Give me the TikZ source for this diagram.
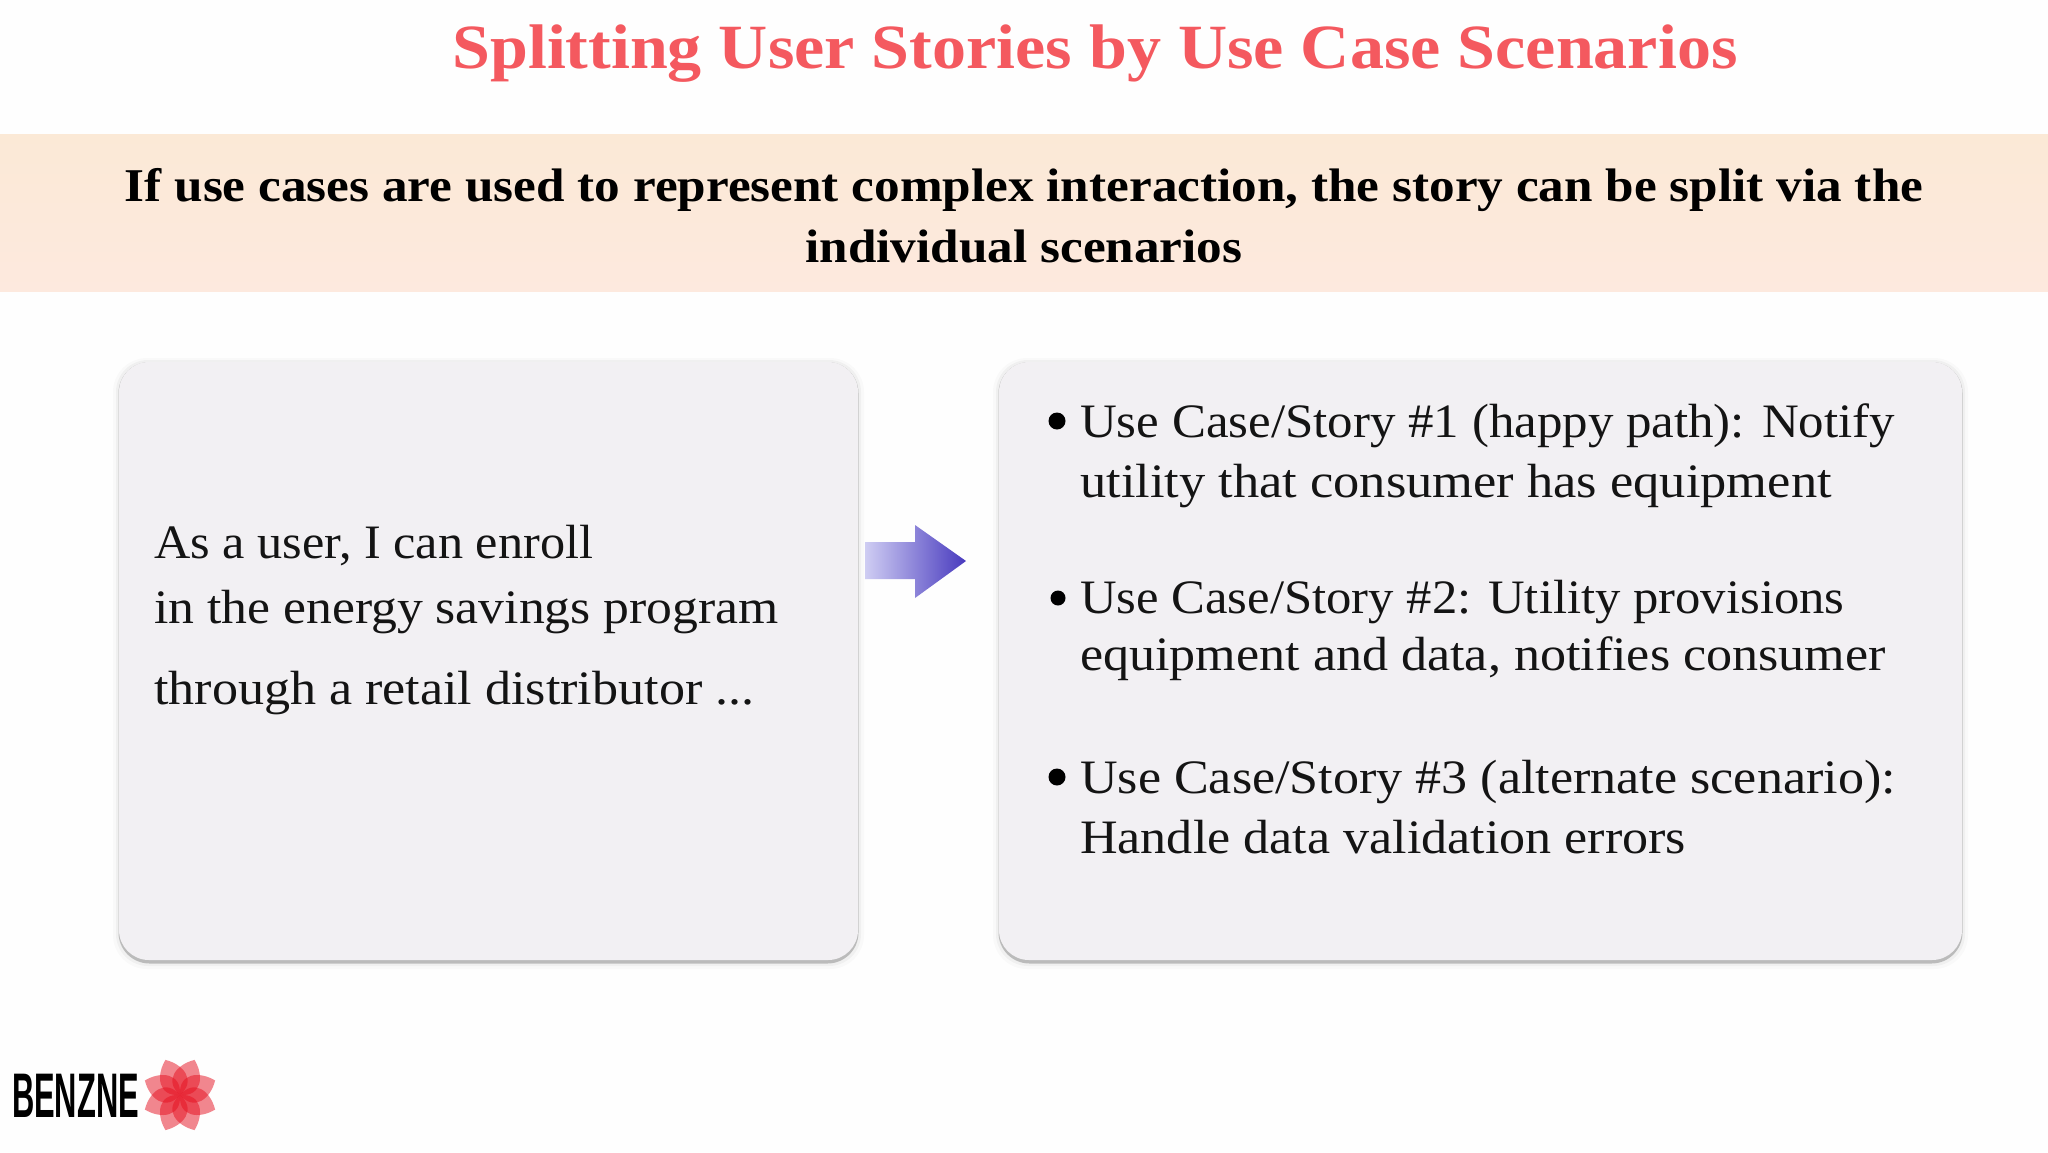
\documentclass[tikz,border=0pt]{standalone}
\usepackage{fontspec}
\setmainfont{Liberation Serif}[FakeStretch=1.085]
\newfontfamily\headfont{Liberation Serif}[FakeStretch=1.09]
\newfontfamily\titlefont{Liberation Serif}[FakeStretch=1.08]
\newfontfamily\logofont{Liberation Sans}
\definecolor{titlered}{HTML}{F4595F}
\definecolor{boxfill}{HTML}{F2F0F3}
\definecolor{pagebg}{HTML}{FEFEFE}
\definecolor{petal}{HTML}{E61020}
\definecolor{bandtop}{HTML}{FBE9D6}
\definecolor{bandbot}{HTML}{FDE9DE}
\definecolor{arrowlight}{HTML}{CFCDF3}
\definecolor{arrowmid}{HTML}{6E67CE}
\definecolor{arrowdark}{HTML}{483ABE}
\tikzset{
  x=1pt,y=-1pt,
  bodytext/.style={anchor=base west,inner sep=0pt,font=\fontsize{48}{48}\selectfont,text=black!92,transform shape},
  headtext/.style={anchor=base,inner sep=0pt,font=\headfont\fontsize{47}{47}\selectfont\bfseries,text=black},
  titletext/.style={anchor=base,inner sep=0pt,font=\titlefont\fontsize{63}{63}\selectfont\bfseries,text=titlered},
  bulletdot/.style={circle,fill=black,inner sep=0pt,minimum size=17pt},
  panel/.style={fill=boxfill,rounded corners=30pt,draw=none},
  petalshape/.style={fill=petal,fill opacity=.5,draw=none},
}
\begin{document}
\begin{tikzpicture}
\useasboundingbox (0,0) rectangle (2048,1152);
\fill[pagebg] (0,0) rectangle (2048,1152);
% banner
\fill[top color=bandtop,bottom color=bandbot] (0,134) rectangle (2048,291);
\node[titletext] (title) at (1095,68) {Splitting User Stories by Use Case Scenarios};
\node[headtext] (head1) at (1024,201) {If use cases are used to represent complex interaction, the story can be split via the};
\node[headtext] (head2) at (1024,262) {individual scenarios};
% panels with soft shadow
\foreach \a/\b/\c/\d in {119/362/858/962,999/362/1962/962}{
  \fill[black,opacity=.02,rounded corners=34pt] (\a-6,\b-4) rectangle (\c+6,\d+7);
  \fill[black,opacity=.035,rounded corners=32pt] (\a-3,\b-2) rectangle (\c+3,\d+4);
  \fill[black,opacity=.22,rounded corners=31pt] (\a-.5,\b) rectangle (\c+.5,\d+1.5);
}
\fill[panel] (119,362) rectangle (858,960);
\fill[panel] (999,362) rectangle (1962,960);
% left text
\node[bodytext,xscale=.965] (l1) at (154,558) {As a user, I can enroll};
\node[bodytext,xscale=.992] (l2) at (154,623) {in the energy savings program};
\node[bodytext] (l3) at (154,704) {through a retail distributor ...};
% arrow
\shade[left color=arrowlight,middle color=arrowmid,right color=arrowdark]
  (865,542) -- (915,542) -- (915,525) -- (966,561) -- (915,598) -- (915,579) -- (865,579) -- cycle;
% right text
\node[bulletdot] (b1) at (1057,421) {};
\node[bulletdot,minimum size=15pt] (b2) at (1058,598) {};
\node[bulletdot] (b3) at (1057,777) {};
\node[bodytext,xscale=.978] (r1) at (1080,437) {Use Case/Story \#1 (happy path): Notify};
\node[bodytext,xscale=1.007] (r2) at (1080,497) {utility that consumer has equipment};
\node[bodytext,xscale=.973] (r3) at (1080,613) {Use Case/Story \#2: Utility provisions};
\node[bodytext] (r4) at (1080,670) {equipment and data, notifies consumer};
\node[bodytext] (r5) at (1080,793) {Use Case/Story \#3 (alternate scenario):};
\node[bodytext] (r6) at (1080,853) {Handle data validation errors};
% logo
\node[anchor=base west,inner sep=0pt,font=\logofont\fontsize{63}{63}\selectfont\bfseries,xscale=.49,transform shape,text=black] (logo) at (12,1117) {BENZNE};
\foreach \ang in {22.5,67.5,...,360}{
  \fill[petalshape,shift={(180,1095)},rotate=\ang]
    (0,0) .. controls (7,-21) and (27,-15) .. (38,0) .. controls (27,15) and (7,21) .. (0,0) -- cycle;
}
\end{tikzpicture}
\end{document}
